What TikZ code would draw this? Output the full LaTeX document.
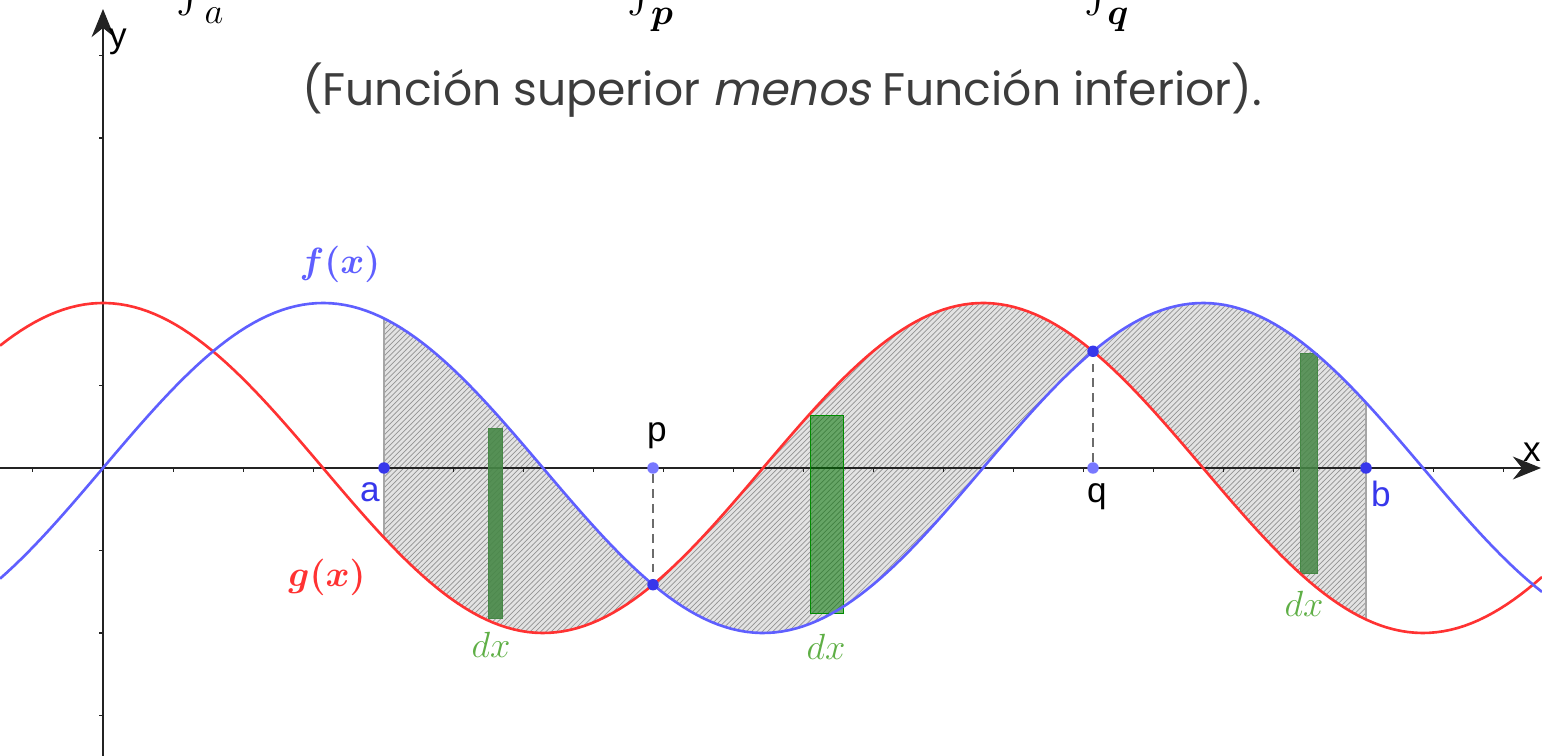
\documentclass[tikz,border=0pt]{standalone}
\usepackage{fontspec}
\usepackage{amsmath,bm}
\usetikzlibrary{patterns,arrows.meta}
\newfontfamily\sanslbl{Liberation Sans}
\newfontfamily\titlefont{Poppins}
\newfontfamily\titleit{Poppins}[FakeSlant=0.2]
\definecolor{fblue}{RGB}{95,95,255}
\definecolor{gred}{RGB}{255,50,50}
\definecolor{dotblue}{RGB}{55,55,235}
\definecolor{dotlight}{RGB}{120,120,255}
\definecolor{dxgreen}{RGB}{95,175,70}
\definecolor{stripgreen}{RGB}{70,135,70}
\definecolor{axisgray}{RGB}{35,35,35}
\definecolor{titlegray}{RGB}{60,60,60}
\begin{document}
\begin{tikzpicture}[x=0.02cm,y=-0.02cm,
  axisline/.style={draw=axisgray,line width=1.2pt,-{Stealth[length=16pt,width=13pt]}},
  tick/.style={draw=axisgray,line width=0.6pt},
  fcurve/.style={draw=fblue,line width=1.5pt},
  gcurve/.style={draw=gred,line width=1.5pt},
  dot/.style={circle,inner sep=0pt,minimum size=0.23cm,draw=none},
  lbl/.style={font=\sanslbl\fontsize{20}{24}\selectfont,inner sep=0pt},
  mlbl/.style={font=\fontsize{20}{24}\selectfont,inner sep=0pt},
  stripbox/.style={line width=0.8pt},
  guide/.style={draw=gray!85!black,line width=1.3pt,dash pattern=on 5pt off 3.5pt}]
\useasboundingbox (0,0) rectangle (1542,756);
\clip (0,0) rectangle (1542,756);
% shaded region between the curves
\fill[gray!22] plot[domain=384:1366,samples=160] (\x,{468-165*sin(((\x-103)/140.06) r)})
  -- plot[domain=1366:384,samples=160] (\x,{468-165*cos(((\x-103)/140.06) r)}) -- cycle;
\fill[pattern=north east lines,pattern color=gray!85] plot[domain=384:1366,samples=160] (\x,{468-165*sin(((\x-103)/140.06) r)})
  -- plot[domain=1366:384,samples=160] (\x,{468-165*cos(((\x-103)/140.06) r)}) -- cycle;
\coordinate (fa) at (384,{468-165*sin(((384-103)/140.06) r)});
\coordinate (ga) at (384,{468-165*cos(((384-103)/140.06) r)});
\coordinate (fb) at (1366,{468-165*sin(((1366-103)/140.06) r)});
\coordinate (gb) at (1366,{468-165*cos(((1366-103)/140.06) r)});
\draw[gray!70,line width=0.6pt] (fa) -- (ga);
\draw[gray!70,line width=0.6pt] (fb) -- (gb);
% axes
\coordinate (xs) at (0,468);
\coordinate (xe) at (1541,468);
\coordinate (ys) at (103,756);
\coordinate (ye) at (103,9);
\draw[axisline] (xs) -- (xe);
\draw[axisline] (ys) -- (ye);
\foreach \k in {-1,1,2,...,20} {\draw[tick] ({103+70.03*\k},468) -- ({103+70.03*\k},472);}
\foreach \k in {-3,-2,-1,1,2,4,5} {\draw[tick] (99,{468-82.5*\k}) -- (103,{468-82.5*\k});}
% strips dx
\node[stripbox,draw=stripgreen,fill=stripgreen,fill opacity=0.9,inner sep=0,minimum width=0.28cm,minimum height=3.8cm,anchor=north west] (s1) at (488,428) {};
\node[stripbox,draw=green!55!black,fill=green!45!black,fill opacity=0.55,inner sep=0,minimum width=0.66cm,minimum height=3.96cm,anchor=north west] (s2) at (810,415) {};
\node[stripbox,draw=stripgreen,fill=stripgreen,fill opacity=0.85,inner sep=0,minimum width=0.34cm,minimum height=4.4cm,anchor=north west] (s3) at (1300,353) {};
% curves
\draw[gcurve] plot[domain=0:1542,samples=220] (\x,{468-165*cos(((\x-103)/140.06) r)});
\draw[fcurve] plot[domain=0:1542,samples=220] (\x,{468-165*sin(((\x-103)/140.06) r)});
% points
\node[dot,fill=dotblue] (A) at (384,468) {};
\node[dot,fill=dotblue] (B) at (1366,468) {};
\node[dot,fill=dotlight] (P) at (653,468) {};
\node[dot,fill=dotlight] (Q) at (1093,468) {};
\node[dot,fill=dotblue] (P2) at (653,584.7) {};
\node[dot,fill=dotblue] (Q2) at (1093,351.3) {};
\draw[guide] (P) -- (P2);
\draw[guide] (Q) -- (Q2);
% labels
\node[lbl,text=dotblue] (la) at (370,492) {a};
\node[lbl,text=dotblue] (lb) at (1381,494) {b};
\node[lbl] (lp) at (657,436) {p};
\node[lbl] (lq) at (1097,497) {q};
\node[lbl] (lx) at (1532,452) {x};
\node[lbl] (ly) at (118,42) {y};
\node[mlbl,text=fblue] (lf) at (340,264) {$\bm{f(x)}$};
\node[mlbl,text=gred] (lg) at (327,577) {$\bm{g(x)}$};
\node[mlbl,text=dxgreen] (d1) at (491,645) {$dx$};
\node[mlbl,text=dxgreen] (d2) at (826,647) {$dx$};
\node[mlbl,text=dxgreen] (d3) at (1304,604) {$dx$};
% title
\node[inner sep=0,text=titlegray] (title) at (782,90) {\resizebox{19.2cm}{!}{\titlefont (Función superior {\titleit menos} Función inferior).}};
% integral fragments at top edge
\node[anchor=south,inner sep=0,font=\fontsize{30}{36}\selectfont] (i1) at (191,16) {$\int$};
\node[anchor=base,inner sep=0,font=\fontsize{22}{26}\selectfont] (s1t) at (214,24) {$a$};
\node[anchor=south,inner sep=0,font=\fontsize{30}{36}\selectfont] (i2) at (642,16) {$\int$};
\node[anchor=base,inner sep=0,font=\fontsize{21}{25}\selectfont] (s2t) at (662,25) {$\bm{p}$};
\node[anchor=south,inner sep=0,font=\fontsize{30}{36}\selectfont] (i3) at (1099,16) {$\int$};
\node[anchor=base,inner sep=0,font=\fontsize{21}{25}\selectfont] (s3t) at (1118,25) {$\bm{q}$};
\end{tikzpicture}
\end{document}
